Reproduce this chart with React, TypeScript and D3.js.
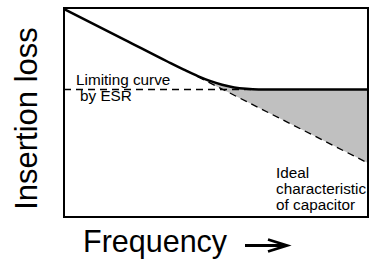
import React, { useEffect, useRef } from 'react';
import * as d3 from 'd3';

// (arbitrary units, 0..100 on both axes)
const freq = [0, 20, 34, 40, 44, 48, 52, 56, 60, 64, 68, 100];
const insertionLoss = [99.5, 84.8, 74.4, 70.1, 67.4, 65.1, 63.3, 62.0, 61.35, 61.05, 61.0, 61.0];

const idealFreq = [44, 100];
const idealLoss = [67.1, 25.8];

const esrFreq = [0, 62];
const esrLoss = [61, 61];

const shadeFrom = 34;

const yLabel = 'Insertion loss';
const xLabel = 'Frequency';
const esrLabel = ['Limiting curve', 'by ESR'];
const idealLabel = ['Ideal', 'characteristic', 'of capacitor'];

const W = 370;
const H = 267;
const FONT = "'Liberation Sans', Arial, Helvetica, sans-serif";

export default function App() {
  const svgRef = useRef<SVGSVGElement>(null);

  useEffect(() => {
    if (!svgRef.current) return;
    const svg = d3.select(svgRef.current);
    svg.selectAll('*').remove();

    const margin = { top: 8, right: 2, bottom: 50, left: 64 };
    const x = d3.scaleLinear().domain([0, 100]).range([margin.left, W - margin.right]);
    const y = d3.scaleLinear().domain([0, 100]).range([H - margin.bottom, margin.top]);

    const pts: [number, number][] = freq.map((f, i) => [f, insertionLoss[i]]);
    const line = d3.line<[number, number]>()
      .x(d => x(d[0]))
      .y(d => y(d[1]))
      .curve(d3.curveMonotoneX);

    // shaded gap between real and ideal
    const shadePts = pts.filter(d => d[0] >= shadeFrom);
    const last = idealFreq.length - 1;
    svg.append('path')
      .attr('d', line(shadePts) + `L${x(idealFreq[last])},${y(idealLoss[last])}Z`)
      .attr('fill', '#c0c0c0')
      .attr('stroke', 'none');

    // ESR limit (dashed)
    svg.append('line')
      .attr('x1', x(esrFreq[0])).attr('y1', y(esrLoss[0]))
      .attr('x2', x(esrFreq[1])).attr('y2', y(esrLoss[1]))
      .attr('stroke', '#000')
      .attr('stroke-width', 1.3)
      .attr('stroke-dasharray', '7,5');

    // ideal capacitor (dashed)
    svg.append('line')
      .attr('x1', x(idealFreq[0])).attr('y1', y(idealLoss[0]))
      .attr('x2', x(idealFreq[1])).attr('y2', y(idealLoss[1]))
      .attr('stroke', '#000')
      .attr('stroke-width', 1.3)
      .attr('stroke-dasharray', '7,5');

    // actual curve
    svg.append('path')
      .datum(pts)
      .attr('d', line)
      .attr('fill', 'none')
      .attr('stroke', '#000')
      .attr('stroke-width', 2.5);

    // frame
    svg.append('rect')
      .attr('x', x(0))
      .attr('y', y(100))
      .attr('width', x(100) - x(0))
      .attr('height', y(0) - y(100))
      .attr('fill', 'none')
      .attr('stroke', '#000')
      .attr('stroke-width', 2);

    const txt = svg.append('g').attr('font-family', FONT).attr('fill', '#000');

    esrLabel.forEach((s, i) => {
      txt.append('text')
        .attr('x', i === 0 ? 76 : 80)
        .attr('y', 85 + i * 15.5)
        .attr('font-size', 15.3)
        .text(s);
    });

    idealLabel.forEach((s, i) => {
      txt.append('text')
        .attr('x', 276)
        .attr('y', 178 + i * 15.8)
        .attr('font-size', 15.3)
        .text(s);
    });

    txt.append('text')
      .attr('transform', `translate(37,118.5) rotate(-90)`)
      .attr('text-anchor', 'middle')
      .attr('font-size', 31)
      .text(yLabel);

    txt.append('text')
      .attr('x', 83)
      .attr('y', 252)
      .attr('font-size', 30.5)
      .text(xLabel);

    // arrow after the x label
    svg.append('path')
      .attr('d', 'M245,245.5H286M268,239.5L287,245.5L268,251.5')
      .attr('fill', 'none')
      .attr('stroke', '#000')
      .attr('stroke-width', 2.8);
  }, []);

  return (
    <div style={{ position: 'fixed', left: 0, top: 0, width: W, height: H, background: '#fff' }}>
      <svg ref={svgRef} width={W} height={H} />
    </div>
  );
}
